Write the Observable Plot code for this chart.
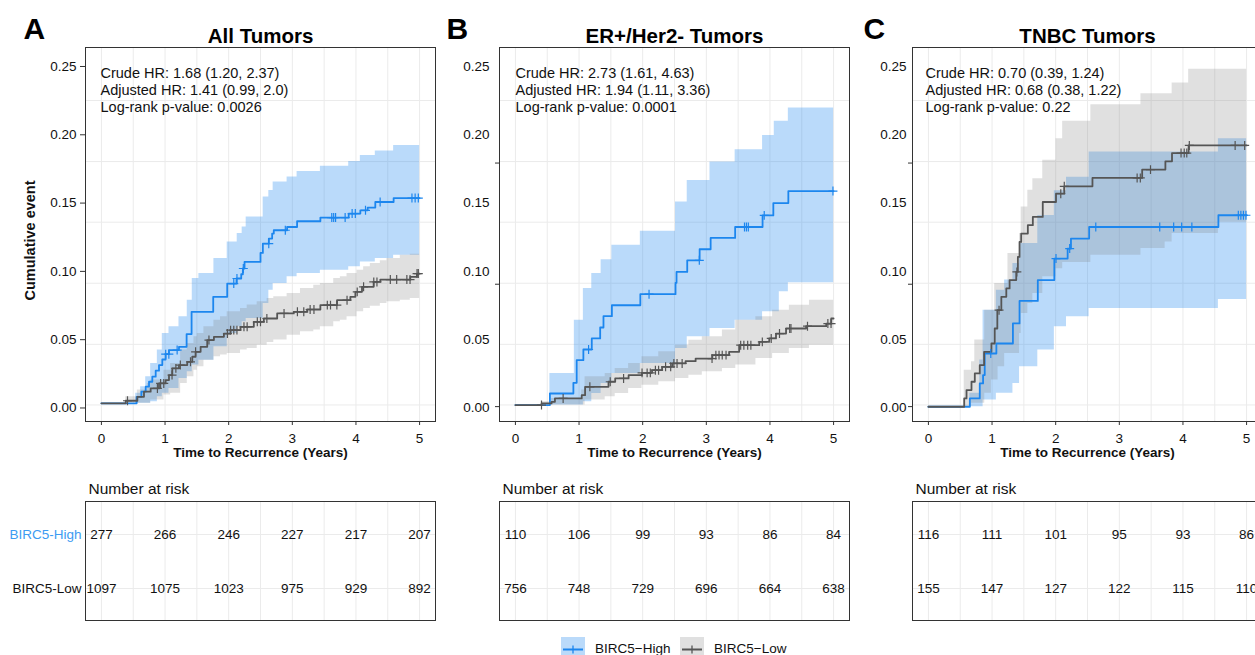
<!DOCTYPE html>
<html><head><meta charset="utf-8">
<script src="https://cdn.jsdelivr.net/npm/d3@7"></script>
<script src="https://cdn.jsdelivr.net/npm/@observablehq/plot@0.6"></script>
<style>
body{margin:0;background:#fff;font-family:"Liberation Sans",Arial,Helvetica,sans-serif;}
#root{position:relative;width:1255px;height:655px;overflow:hidden;background:#fff;}
.leg{position:absolute;font-size:13.5px;line-height:13.5px;color:#111;white-space:nowrap;}
</style></head><body><div id="root"></div>
<script>
// ---------- data ----------
const years = [0, 1, 2, 3, 4, 5];
const groups = ["BIRC5-High", "BIRC5-Low"];
const legendLabels = ["BIRC5\u2212High", "BIRC5\u2212Low"];
const panelLetters = ["A", "B", "C"];
const panelTitles = ["All Tumors", "ER+/Her2- Tumors", "TNBC Tumors"];
const yTicks = [0, 0.05, 0.10, 0.15, 0.20, 0.25];
const gridYValues = [0.0022, 0.0466, 0.0913, 0.1360, 0.1804, 0.2251];
const gridXValues = [0, 0.5, 1, 1.5, 2, 2.5, 3, 3.5, 4, 4.5, 5];
const innerTicks = [0.001, 0.0906, 0.1793];

const statsA = ["Crude HR: 1.68 (1.20, 2.37)", "Adjusted HR: 1.41 (0.99, 2.0)", "Log-rank p-value: 0.0026"];
const statsB = ["Crude HR: 2.73 (1.61, 4.63)", "Adjusted HR: 1.94 (1.11, 3.36)", "Log-rank p-value: 0.0001"];
const statsC = ["Crude HR: 0.70 (0.39, 1.24)", "Adjusted HR: 0.68 (0.38, 1.22)", "Log-rank p-value: 0.22"];

const riskAHigh = [277, 266, 246, 227, 217, 207];
const riskALow  = [1097, 1075, 1023, 975, 929, 892];
const riskBHigh = [110, 106, 99, 93, 86, 84];
const riskBLow  = [756, 748, 729, 696, 664, 638];
const riskCHigh = [116, 111, 101, 95, 93, 86];
const riskCLow  = [155, 147, 127, 122, 115, 110];

// step curves: [time, cumulative event]
const aHighCurve = [[0,0.0034],[0.554,0.0082],[0.628,0.0119],[0.696,0.0156],[0.748,0.0192],[0.80,0.0229],[0.853,0.0273],[0.905,0.0314],[0.957,0.0355],[1.009,0.0394],[1.062,0.0424],[1.219,0.0448],[1.339,0.0541],[1.417,0.0704],[1.757,0.0814],[1.977,0.0911],[2.123,0.0948],[2.197,0.0979],[2.223,0.1021],[2.249,0.1069],[2.50,0.1135],[2.537,0.1203],[2.631,0.1240],[2.683,0.1277],[2.709,0.1301],[2.918,0.1325],[3.075,0.1367],[3.441,0.1394],[3.886,0.1423],[4.069,0.1447],[4.184,0.1467],[4.304,0.1508],[4.592,0.1537]];
const aLowCurve = [[0,0.0034],[0.382,0.0053],[0.565,0.0082],[0.669,0.0119],[0.774,0.0143],[0.905,0.0180],[1.009,0.0204],[1.062,0.0241],[1.114,0.0290],[1.219,0.0314],[1.349,0.0338],[1.428,0.0375],[1.480,0.0411],[1.559,0.0448],[1.663,0.0497],[1.768,0.0521],[1.925,0.0545],[2.029,0.0570],[2.186,0.0594],[2.395,0.0631],[2.552,0.0655],[2.762,0.0692],[3.023,0.0704],[3.232,0.0721],[3.441,0.0753],[3.703,0.0789],[3.912,0.0814],[3.991,0.0850],[4.095,0.0887],[4.278,0.0923],[4.383,0.0940],[4.854,0.0960],[4.958,0.0984]];
const bHighCurve = [[0,0.0021],[0.542,0.0106],[0.911,0.0184],[0.963,0.0350],[1.068,0.0428],[1.2,0.0509],[1.332,0.0589],[1.384,0.0672],[1.516,0.0752],[1.963,0.0833],[2.516,0.0916],[2.532,0.0996],[2.7,0.1081],[2.895,0.1162],[3.068,0.1245],[3.453,0.1325],[3.884,0.1410],[4.053,0.1500],[4.289,0.1588]];
const bLowCurve = [[0,0.0021],[0.411,0.0033],[0.568,0.0045],[0.621,0.0070],[1.042,0.0094],[1.095,0.0155],[1.463,0.0192],[1.568,0.0216],[1.779,0.0240],[1.989,0.0257],[2.147,0.0277],[2.305,0.0301],[2.463,0.0326],[2.674,0.0343],[2.832,0.0362],[3.095,0.0387],[3.358,0.0411],[3.516,0.0460],[3.832,0.0484],[3.989,0.0509],[4.095,0.0545],[4.253,0.0582],[4.568,0.0599],[4.884,0.0618],[4.963,0.0655]];
const cHighCurve = [[0,0.0009],[0.651,0.0070],[0.807,0.0180],[0.859,0.0241],[0.885,0.0399],[1.068,0.0472],[1.328,0.0619],[1.432,0.0784],[1.719,0.0936],[1.979,0.1094],[2.188,0.1167],[2.240,0.1240],[2.526,0.1325],[4.557,0.1411]];
const cLowCurve = [[0,0.0009],[0.5625,0.0070],[0.599,0.0131],[0.677,0.0192],[0.729,0.0253],[0.807,0.0314],[0.875,0.0411],[0.990,0.0472],[1.042,0.0582],[1.083,0.0716],[1.146,0.0814],[1.224,0.0875],[1.276,0.0936],[1.380,0.0996],[1.406,0.1106],[1.432,0.1216],[1.458,0.1277],[1.5625,0.1338],[1.641,0.1399],[1.797,0.1508],[2.005,0.1569],[2.135,0.1623],[2.578,0.1684],[3.359,0.1745],[3.724,0.1806],[3.828,0.1866],[4.089,0.1922]];

// confidence bands: [time, lower, upper]
const aHighBand = [[0,0.0034,0.0034],[0.539,0.0034,0.0107],[0.617,0.0034,0.0156],[0.696,0.0034,0.0229],[0.774,0.0046,0.0326],[0.879,0.0082,0.0424],[0.957,0.0107,0.0545],[1.062,0.0143,0.0594],[1.219,0.0216,0.0667],[1.349,0.0265,0.0789],[1.428,0.0314,0.0948],[1.532,0.0350,0.0984],[1.768,0.0448,0.1094],[1.977,0.0545,0.1216],[2.134,0.0594,0.1277],[2.212,0.0631,0.1325],[2.275,0.0655,0.1398],[2.542,0.0765,0.1545],[2.631,0.0862,0.1593],[2.699,0.0911,0.1654],[2.918,0.0960,0.1691],[3.075,0.0984,0.1732],[3.441,0.1008,0.1769],[3.886,0.1033,0.1805],[4.069,0.1069,0.1849],[4.304,0.1094,0.1881],[4.592,0.1118,0.1922]];
const aLowBand = [[0,0.0034,0.0034],[0.382,0.0034,0.0082],[0.565,0.0034,0.0131],[0.722,0.0034,0.0180],[0.774,0.0058,0.0204],[0.983,0.0095,0.0277],[1.088,0.0107,0.0326],[1.245,0.0180,0.0424],[1.349,0.0229,0.0472],[1.454,0.0277,0.0521],[1.506,0.0302,0.0545],[1.611,0.0350,0.0594],[1.768,0.0375,0.0643],[1.872,0.0387,0.0667],[1.977,0.0399,0.0704],[2.186,0.0424,0.0728],[2.291,0.0436,0.0753],[2.448,0.0460,0.0777],[2.605,0.0480,0.0801],[2.709,0.0497,0.0814],[2.918,0.0533,0.0838],[3.128,0.0558,0.0874],[3.337,0.0570,0.0899],[3.441,0.0594,0.0911],[3.651,0.0631,0.0948],[3.755,0.0643,0.0960],[3.860,0.0667,0.0984],[4.017,0.0704,0.1008],[4.121,0.0728,0.1033],[4.226,0.0745,0.1057],[4.383,0.0765,0.1077],[4.487,0.0777,0.1094],[4.697,0.0789,0.1118],[4.854,0.0801,0.1125]];
const bHighBand = [[0,0.0021,0.0021],[0.542,0.0021,0.0253],[0.926,0.0021,0.0643],[1.068,0.0045,0.0874],[1.2,0.0106,0.0984],[1.347,0.0180,0.1086],[1.516,0.0253,0.1191],[1.963,0.0326,0.1293],[2.516,0.0435,0.1508],[2.7,0.0521,0.1666],[3.058,0.0582,0.1800],[3.453,0.0643,0.1890],[3.884,0.0704,0.1995],[4.068,0.0704,0.2100],[4.147,0.0850,0.2100],[4.289,0.0916,0.2197]];
const bLowBand = [[0,0.0021,0.0021],[0.411,0.0021,0.0045],[0.568,0.0021,0.0070],[1.042,0.0021,0.0131],[1.095,0.0058,0.0228],[1.411,0.0082,0.0253],[1.568,0.0106,0.0289],[1.779,0.0143,0.0326],[1.989,0.0167,0.0375],[2.253,0.0192,0.0411],[2.516,0.0216,0.0460],[2.726,0.0240,0.0496],[2.937,0.0265,0.0521],[3.253,0.0289,0.0570],[3.463,0.0314,0.0643],[3.779,0.0362,0.0667],[4.042,0.0399,0.0716],[4.305,0.0435,0.0752],[4.621,0.0460,0.0789]];
const cHighBand = [[0,0.0009,0.0009],[0.651,0.0009,0.0107],[0.807,0.0009,0.0351],[0.859,0.0058,0.0716],[1.068,0.0107,0.0862],[1.198,0.0107,0.0936],[1.328,0.0180,0.1057],[1.432,0.0302,0.1204],[1.719,0.0424,0.1410],[1.979,0.0594,0.1590],[2.17,0.0667,0.1690],[2.526,0.0729,0.1874],[4.557,0.0795,0.1971]];
const cLowBand = [[0,0.0009,0.0009],[0.5625,0.0009,0.0277],[0.677,0.0034,0.0338],[0.729,0.0034,0.0497],[0.885,0.0107,0.0716],[0.99,0.0204,0.0716],[1.042,0.0204,0.0911],[1.094,0.0302,0.0911],[1.198,0.0399,0.0911],[1.25,0.0399,0.1130],[1.432,0.0546,0.1277],[1.458,0.0692,0.1472],[1.5625,0.0765,0.1594],[1.641,0.0838,0.1679],[1.797,0.0960,0.1813],[2.005,0.1020,0.1971],[2.11,0.1065,0.2100],[2.553,0.1118,0.2220],[3.34,0.1167,0.2300],[3.72,0.1216,0.2300],[3.83,0.1277,0.2380],[4.09,0.1277,0.2480],[4.557,0.1360,0.2480]];

// censoring times
const aHighCens = [1.01,1.06,1.19,2.08,2.13,2.23,2.63,2.89,3.62,3.65,3.68,3.83,3.94,3.99,4.15,4.38,4.88,4.93,4.98];
const aLowCens = [0.41,0.88,0.93,0.98,1.11,1.17,1.24,1.40,1.48,1.69,1.98,2.03,2.08,2.13,2.24,2.29,2.45,2.50,2.60,2.87,3.08,3.18,3.28,3.34,3.55,3.60,3.70,3.86,4.02,4.12,4.28,4.33,4.54,4.64,4.80,4.85,4.96,4.98];
const bHighCens = [1.15,2.10,2.89,3.60,3.63,3.66,3.91,4.99];
const bLowCens = [0.41,0.75,1.17,1.49,1.70,1.99,2.07,2.12,2.20,2.25,2.36,2.44,2.49,2.54,2.62,3.09,3.15,3.20,3.25,3.31,3.54,3.59,3.65,3.70,3.88,4.02,4.15,4.31,4.33,4.59,4.91,4.96];
const cHighCens = [0.98,2.005,2.22,2.63,3.635,3.854,3.98,4.14,4.87,4.91,4.95,4.99];
const cLowCens = [1.11,1.39,2.08,2.135,3.28,3.33,3.49,3.97,4.02,4.06,4.10,4.82,4.97];

// ---------- styling ----------
const FONT = '"Liberation Sans", Arial, Helvetica, sans-serif';
const BLUE = "#1C86EE";
const GRAY = "#555555";
const BLUE_LABEL = "#3C9BF2";
const GRID = "#EBEBEB";

function toCurve(arr){ const c = arr.map(([t,v]) => ({t, v})); c.push({t: 5, v: arr[arr.length-1][1]}); return c; }
function toBand(arr){ const b = arr.map(([t,lo,hi]) => ({t, lo, hi})); const l = arr[arr.length-1]; b.push({t: 5, lo: l[1], hi: l[2]}); return b; }
function stepAt(arr, t){ let v = arr[0][1]; for (const [tt, vv] of arr) if (tt <= t) v = vv; return v; }
function toCens(times, arr){ return times.map(t => ({t, v: stepAt(arr, t)})); }

const panels = [
  {left: 0, letterDx: -62, statsDx: 15, stats: statsA, highCurve: aHighCurve, lowCurve: aLowCurve, highBand: aHighBand, lowBand: aLowBand, highCens: aHighCens, lowCens: aLowCens, riskHigh: riskAHigh, riskLow: riskALow, first: true},
  {left: 414, letterDx: -53, statsDx: 16, stats: statsB, highCurve: bHighCurve, lowCurve: bLowCurve, highBand: bHighBand, lowBand: bLowBand, highCens: bHighCens, lowCens: bLowCens, riskHigh: riskBHigh, riskLow: riskBLow, first: false, labPad: 10},
  {left: 827, letterDx: -49, statsDx: 13, stats: statsC, highCurve: cHighCurve, lowCurve: cLowCurve, highBand: cHighBand, lowBand: cLowBand, highCens: cHighCens, lowCens: cLowCens, riskHigh: riskCHigh, riskLow: riskCLow, first: false, labPad: 6}
];

const root = document.getElementById("root");
const baseStyle = {fontFamily: FONT, fontSize: "13.5px", color: "#111", background: "transparent", overflow: "visible"};

panels.forEach((p, i) => {
  const yAxisMarks = p.first
    ? [Plot.axisY({ticks: yTicks, tickFormat: d3.format(".2f"), tickSize: 5, tickPadding: 4, label: null, stroke: "#333"}),
       Plot.text(["Cumulative event"], {text: d => d, frameAnchor: "left", textAnchor: "middle", lineAnchor: "middle", dx: -55, dy: 6, rotate: -90, fontWeight: "bold", fontSize: 14.5, fill: "#111"})]
    : [Plot.axisY({ticks: yTicks, tickFormat: d3.format(".2f"), tickSize: 0, tickPadding: p.labPad, label: null}),
       Plot.axisY({ticks: innerTicks, tickFormat: () => "", tickSize: 4, label: null, stroke: "#333"})];

  const km = Plot.plot({
    width: 440, height: 465,
    marginLeft: 85, marginRight: 5, marginTop: 47, marginBottom: 44,
    style: baseStyle,
    x: {domain: [-0.25, 5.25]},
    y: {domain: [-0.0099, 0.2639]},
    marks: [
      Plot.ruleX(gridXValues, {x: d => d, stroke: GRID, strokeWidth: 1}),
      Plot.ruleY(gridYValues, {y: d => d, stroke: GRID, strokeWidth: 1}),
      Plot.areaY(toBand(p.highBand), {x: "t", y1: "lo", y2: "hi", curve: "step-after", fill: BLUE, fillOpacity: 0.3}),
      Plot.areaY(toBand(p.lowBand), {x: "t", y1: "lo", y2: "hi", curve: "step-after", fill: "#7F7F7F", fillOpacity: 0.24}),
      Plot.line(toCurve(p.highCurve), {x: "t", y: "v", curve: "step-after", stroke: BLUE, strokeWidth: 1.8}),
      Plot.line(toCurve(p.lowCurve), {x: "t", y: "v", curve: "step-after", stroke: GRAY, strokeWidth: 1.8}),
      Plot.dot(toCens(p.highCens, p.highCurve), {x: "t", y: "v", symbol: "plus", r: 3, stroke: BLUE, strokeWidth: 1.2}),
      Plot.dot(toCens(p.lowCens, p.lowCurve), {x: "t", y: "v", symbol: "plus", r: 3, stroke: GRAY, strokeWidth: 1.2}),
      Plot.frame({stroke: "#333333", strokeWidth: 1}),
      Plot.axisX({ticks: years, tickFormat: d => String(d), tickSize: 4, tickPadding: 8, label: null, stroke: "#333"}),
      ...yAxisMarks,
      Plot.text([p.stats.join("\n")], {text: d => d, frameAnchor: "top-left", textAnchor: "start", lineAnchor: "top", dx: p.statsDx, dy: 18.5, lineHeight: 1.18, fontSize: 14.5, fill: "#111"}),
      Plot.text(["Time to Recurrence (Years)"], {text: d => d, frameAnchor: "bottom", lineAnchor: "middle", dy: 31, fontWeight: "bold", fontSize: 13.5, fill: "#111"}),
      Plot.text([panelTitles[i]], {text: d => d, frameAnchor: "top", lineAnchor: "middle", dy: -11.5, fontWeight: "bold", fontSize: 20.5, fill: "#000"}),
      Plot.text([panelLetters[i]], {text: d => d, frameAnchor: "top-left", textAnchor: "start", lineAnchor: "middle", dx: p.letterDx, dy: -18.6, fontWeight: "bold", fontSize: 30, fill: "#000"})
    ]
  });
  km.style.position = "absolute";
  km.style.left = p.left + "px";
  km.style.top = "0px";
  km.style.maxWidth = "none";
  root.appendChild(km);

  const rows = [];
  years.forEach((t, k) => {
    rows.push({t, g: groups[0], n: p.riskHigh[k]});
    rows.push({t, g: groups[1], n: p.riskLow[k]});
  });
  const labelMarks = p.first ? [
    Plot.text([groups[0]], {y: d => d, text: d => d, frameAnchor: "left", textAnchor: "end", lineAnchor: "middle", dx: -4, fill: BLUE_LABEL, fontSize: 13.5}),
    Plot.text([groups[1]], {y: d => d, text: d => d, frameAnchor: "left", textAnchor: "end", lineAnchor: "middle", dx: -4, fill: "#111", fontSize: 13.5})
  ] : [];
  const table = Plot.plot({
    width: 440, height: 155,
    marginLeft: 85, marginRight: 5, marginTop: 31, marginBottom: 5,
    style: baseStyle,
    x: {domain: [-0.25, 5.25], axis: null},
    y: {type: "point", domain: groups, padding: 0.6, axis: null},
    marks: [
      Plot.ruleX(gridXValues, {x: d => d, stroke: GRID, strokeWidth: 1}),
      Plot.ruleY(groups, {y: d => d, stroke: GRID, strokeWidth: 1}),
      Plot.frame({stroke: "#333333", strokeWidth: 1}),
      Plot.text(rows, {x: "t", y: "g", text: d => String(d.n), fontSize: 13.5, fill: "#111"}),
      Plot.text(["Number at risk"], {text: d => d, frameAnchor: "top-left", textAnchor: "start", lineAnchor: "middle", dx: 3, dy: -12, fontSize: 15.5, fill: "#111"}),
      ...labelMarks
    ]
  });
  table.style.position = "absolute";
  table.style.left = p.left + "px";
  table.style.top = "470px";
  table.style.maxWidth = "none";
  root.appendChild(table);
});

// legend
const legendItems = [
  {label: legendLabels[0], stroke: BLUE, fill: BLUE, op: 0.3, x: 561},
  {label: legendLabels[1], stroke: GRAY, fill: "#7F7F7F", op: 0.24, x: 680}
];
legendItems.forEach(it => {
  const ns = "http://www.w3.org/2000/svg";
  const svg = document.createElementNS(ns, "svg");
  svg.setAttribute("width", 24); svg.setAttribute("height", 22);
  svg.style.position = "absolute"; svg.style.left = it.x + "px"; svg.style.top = "637px";
  const r = document.createElementNS(ns, "rect");
  r.setAttribute("x", 0); r.setAttribute("y", 0); r.setAttribute("width", 24); r.setAttribute("height", 22);
  r.setAttribute("fill", it.fill); r.setAttribute("fill-opacity", it.op);
  const l = document.createElementNS(ns, "line");
  l.setAttribute("x1", 2); l.setAttribute("x2", 22); l.setAttribute("y1", 12.5); l.setAttribute("y2", 12.5);
  l.setAttribute("stroke", it.stroke); l.setAttribute("stroke-width", 2);
  const v = document.createElementNS(ns, "line");
  v.setAttribute("x1", 12); v.setAttribute("x2", 12); v.setAttribute("y1", 8.5); v.setAttribute("y2", 16.5);
  v.setAttribute("stroke", it.stroke); v.setAttribute("stroke-width", 1.3);
  svg.appendChild(r); svg.appendChild(l); svg.appendChild(v);
  root.appendChild(svg);
  const t = document.createElement("div");
  t.className = "leg";
  t.textContent = it.label;
  t.style.left = (it.x + 34) + "px";
  t.style.top = "641.5px";
  root.appendChild(t);
});
</script></body></html>
